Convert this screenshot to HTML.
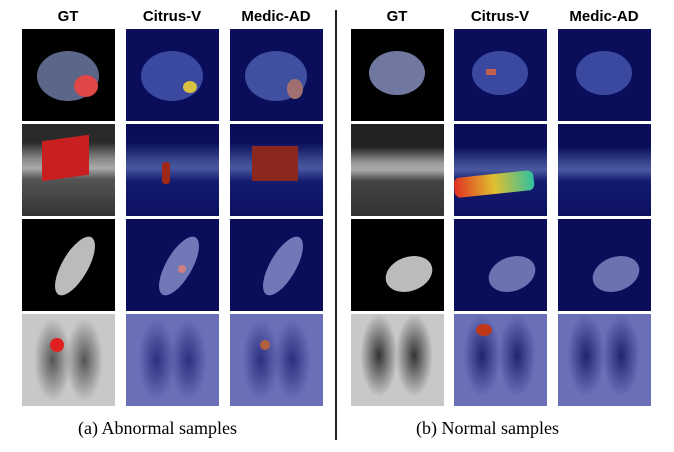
<!DOCTYPE html>
<html><head><style>
body{margin:0;width:674px;height:452px;background:#fff;position:relative;overflow:hidden;font-family:"Liberation Sans",sans-serif}
.c{position:absolute;width:93px;height:92px;overflow:hidden}
.h{position:absolute;top:8px;font-weight:bold;font-size:15px;width:110px;text-align:center}
.cap{position:absolute;top:418px;font-family:"Liberation Serif",serif;font-size:18px}
.k{background:#000}.b{background:#0a0e5a}
.e{position:absolute;border-radius:50%}
</style></head><body>
<div class="h" style="left:13px">GT</div>
<div class="h" style="left:117px">Citrus-V</div>
<div class="h" style="left:221px">Medic-AD</div>
<div class="h" style="left:342px">GT</div>
<div class="h" style="left:445px">Citrus-V</div>
<div class="h" style="left:549px">Medic-AD</div>
<div style="position:absolute;left:335px;top:10px;width:2px;height:430px;background:#222"></div>

<div class="c k" style="left:22px;top:29px"><div class="e" style="left:15px;top:22px;width:62px;height:50px;background:#5c6688"></div><div class="e" style="left:52px;top:46px;width:24px;height:22px;background:#e04848"></div></div>
<div class="c b" style="left:126px;top:29px"><div class="e" style="left:15px;top:22px;width:62px;height:50px;background:#3a48a0"></div><div class="e" style="left:57px;top:52px;width:14px;height:12px;background:#d8c040"></div></div>
<div class="c b" style="left:230px;top:29px"><div class="e" style="left:15px;top:22px;width:62px;height:50px;background:#4050a0"></div><div class="e" style="left:57px;top:50px;width:16px;height:20px;background:#a07070"></div></div>
<div class="c k" style="left:351px;top:29px"><div class="e" style="left:18px;top:22px;width:56px;height:44px;background:#7078a0"></div></div>
<div class="c b" style="left:454px;top:29px"><div class="e" style="left:18px;top:22px;width:56px;height:44px;background:#3a48a0"></div><div style="position:absolute;left:32px;top:40px;width:10px;height:6px;background:#c06050"></div></div>
<div class="c b" style="left:558px;top:29px"><div class="e" style="left:18px;top:22px;width:56px;height:44px;background:#3a48a0"></div></div>

<div class="c" style="left:22px;top:124px;background:linear-gradient(#2a2a2a 0%,#2a2a2a 20%,#888 38%,#aaa 48%,#555 60%,#333 100%)"><div style="position:absolute;left:20px;top:14px;width:47px;height:40px;background:#c82020;transform:skewY(-8deg)"></div></div>
<div class="c" style="left:126px;top:124px;background:linear-gradient(#0a0e5a 0%,#0a0e5a 20%,#3a4890 40%,#4a58a0 48%,#141c70 62%,#0c1060 100%)"><div style="position:absolute;left:36px;top:38px;width:8px;height:22px;background:#a02818;border-radius:3px"></div></div>
<div class="c" style="left:230px;top:124px;background:linear-gradient(#0a0e5a 0%,#0a0e5a 20%,#3a4890 40%,#4a58a0 48%,#141c70 62%,#0c1060 100%)"><div style="position:absolute;left:22px;top:22px;width:46px;height:35px;background:#8a2820"></div></div>
<div class="c" style="left:351px;top:124px;background:linear-gradient(#222 0%,#222 25%,#999 42%,#aaa 50%,#444 62%,#333 100%)"></div>
<div class="c" style="left:454px;top:124px;background:linear-gradient(#0a0e5a 0%,#0a0e5a 25%,#3a4890 42%,#4a58a0 50%,#141c70 62%,#0c1060 100%)"><div style="position:absolute;left:0;top:50px;width:80px;height:20px;background:linear-gradient(90deg,#e03020,#e0c030,#30c0a0);transform:rotate(-6deg);border-radius:6px"></div></div>
<div class="c" style="left:558px;top:124px;background:linear-gradient(#0a0e5a 0%,#0a0e5a 25%,#3a4890 42%,#4a58a0 50%,#141c70 62%,#0c1060 100%)"></div>

<div class="c k" style="left:22px;top:219px"><div class="e" style="left:40px;top:14px;width:26px;height:66px;background:#bbb;transform:rotate(30deg)"></div></div>
<div class="c b" style="left:126px;top:219px"><div class="e" style="left:40px;top:14px;width:26px;height:66px;background:#7078b8;transform:rotate(30deg)"></div><div class="e" style="left:52px;top:46px;width:8px;height:8px;background:#d08080"></div></div>
<div class="c b" style="left:230px;top:219px"><div class="e" style="left:40px;top:14px;width:26px;height:66px;background:#7078b8;transform:rotate(30deg)"></div></div>
<div class="c k" style="left:351px;top:219px"><div class="e" style="left:34px;top:38px;width:48px;height:34px;background:#bbb;transform:rotate(-20deg)"></div></div>
<div class="c b" style="left:454px;top:219px"><div class="e" style="left:34px;top:38px;width:48px;height:34px;background:#6a72b0;transform:rotate(-20deg)"></div></div>
<div class="c b" style="left:558px;top:219px"><div class="e" style="left:34px;top:38px;width:48px;height:34px;background:#6a72b0;transform:rotate(-20deg)"></div></div>

<div class="c" style="left:22px;top:314px;background:radial-gradient(ellipse 20% 45% at 33% 50%,#555,transparent),radial-gradient(ellipse 20% 45% at 67% 50%,#555,transparent),#c8c8c8"><div class="e" style="left:28px;top:24px;width:14px;height:14px;background:#e02020"></div></div>
<div class="c" style="left:126px;top:314px;background:radial-gradient(ellipse 20% 45% at 33% 50%,#2a3080,transparent),radial-gradient(ellipse 20% 45% at 67% 50%,#2a3080,transparent),#6a70b8"></div>
<div class="c" style="left:230px;top:314px;background:radial-gradient(ellipse 20% 45% at 33% 50%,#2a3080,transparent),radial-gradient(ellipse 20% 45% at 67% 50%,#2a3080,transparent),#6a70b8"><div class="e" style="left:30px;top:26px;width:10px;height:10px;background:#b06040"></div></div>
<div class="c" style="left:351px;top:314px;background:radial-gradient(ellipse 20% 45% at 30% 45%,#333,transparent),radial-gradient(ellipse 20% 45% at 68% 45%,#333,transparent),#c8c8c8"></div>
<div class="c" style="left:454px;top:314px;background:radial-gradient(ellipse 20% 45% at 30% 45%,#1e2470,transparent),radial-gradient(ellipse 20% 45% at 68% 45%,#1e2470,transparent),#6a70b8"><div class="e" style="left:22px;top:10px;width:16px;height:12px;background:#c03818"></div></div>
<div class="c" style="left:558px;top:314px;background:radial-gradient(ellipse 20% 45% at 30% 45%,#1e2470,transparent),radial-gradient(ellipse 20% 45% at 68% 45%,#1e2470,transparent),#6a70b8"></div>

<div class="cap" style="left:78px">(a) Abnormal samples</div>
<div class="cap" style="left:416px">(b) Normal samples</div>
</body></html>
